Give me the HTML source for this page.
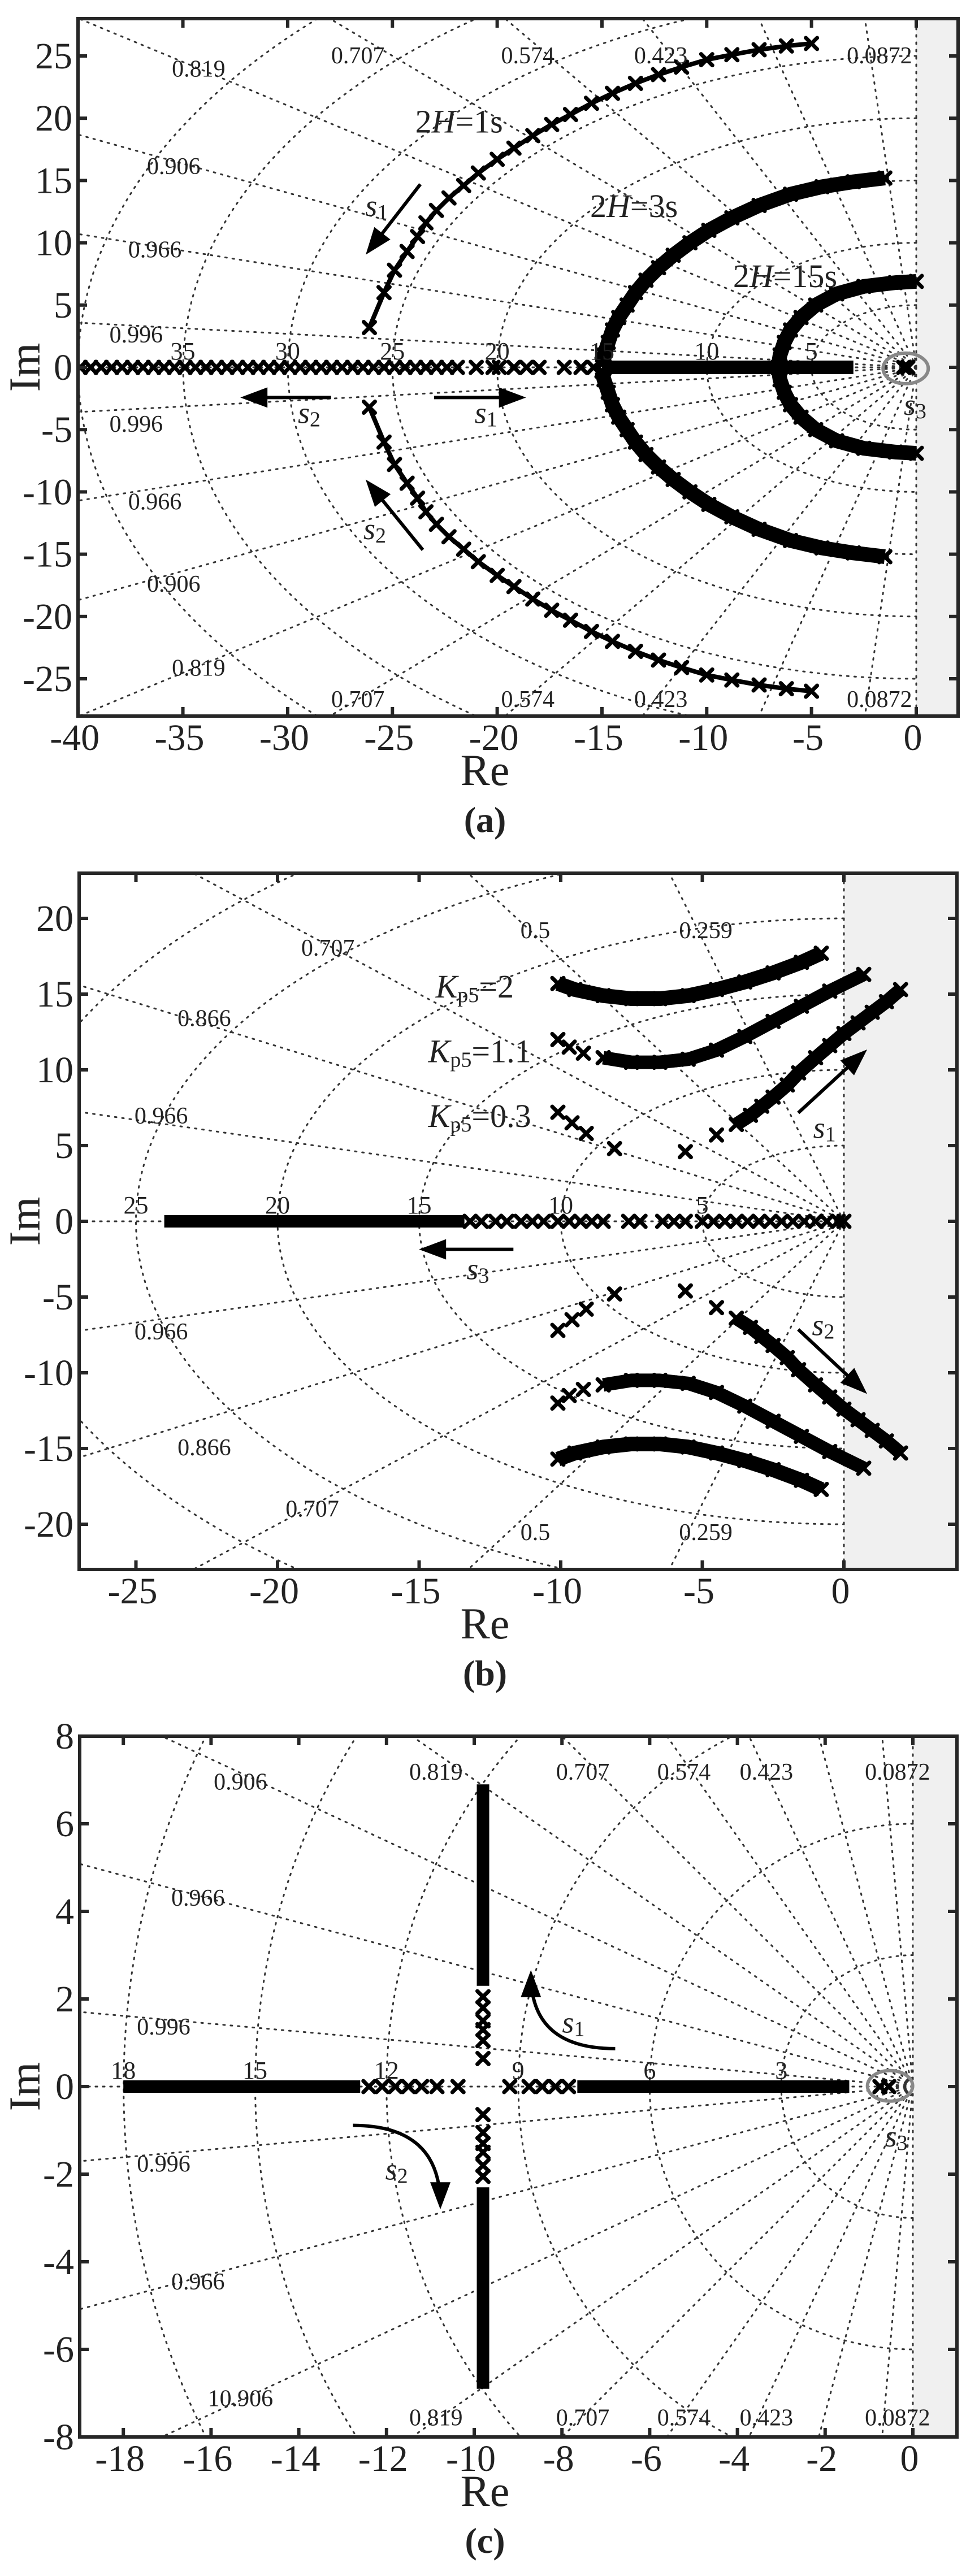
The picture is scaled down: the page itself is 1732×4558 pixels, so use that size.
<!DOCTYPE html>
<html><head><meta charset="utf-8">
<style>
html,body{margin:0;padding:0;background:#fff;width:1732px;height:4558px;overflow:hidden;}
svg{display:block;}
text{font-family:"Liberation Serif",serif;fill:#222;}
</style></head>
<body>
<svg id="fig" xmlns="http://www.w3.org/2000/svg" width="1732" height="4558" viewBox="0 0 1732 4558"></svg>
<script>
// ---------- Panel (a) data ----------
const aH1Re = [-26.1,-25.4,-24.9,-24.3,-23.8,-23.4,-22.9,-22.3,-21.6,-20.9,-20.0,-19.2,-18.3,-17.4,-16.5,-15.5,-14.5,-13.4,-12.3,-11.2,-10.0,-8.8,-7.5,-6.2,-5.0];
const aH1Im = [3.2,6.0,7.8,9.3,10.5,11.6,12.6,13.6,14.6,15.6,16.7,17.6,18.6,19.5,20.3,21.2,22.0,22.8,23.5,24.1,24.7,25.1,25.5,25.8,26.0];
const aH3Re = [-15.0,-14.9,-14.7,-14.5,-14.2,-13.8,-13.4,-12.9,-12.3,-11.6,-10.8,-9.9,-8.8,-7.5,-6.0,-4.5,-3.0,-1.5];
const aH3Im = [0.3,1.0,2.0,3.0,4.0,5.0,6.0,7.0,8.0,9.0,10.0,11.0,12.0,13.0,13.9,14.5,14.9,15.2];
const aH15Re = [-6.6,-6.5,-6.3,-6.0,-5.5,-4.8,-3.8,-2.5,-1.0,0.0];
const aH15Im = [0.0,1.0,2.0,3.0,4.0,5.0,5.9,6.5,6.8,6.9];
const aRealRe = [-39.9,-39.4,-38.9,-38.4,-37.9,-37.4,-36.9,-36.4,-35.9,-35.4,-34.9,-34.4,-33.9,-33.4,-32.9,-32.4,-31.9,-31.4,-30.9,-30.4,-29.9,-29.4,-28.9,-28.4,-27.9,-27.4,-26.9,-26.4,-25.9,-25.4,-24.9,-24.4,-23.9,-23.4,-22.9,-22.4,-21.9,-21.0,-20.2,-19.9,-19.2,-18.6,-18.0,-16.8,-16.0,-15.4];
const aBandRe = [-15.0,-3.0];
const aS3Re = [-0.6,-0.4];
// ---------- Panel (b) data ----------
const bK2Re = [-10.1,-9.5,-8.5,-7.5,-6.5,-5.5,-4.5,-3.5,-2.5,-1.5,-0.8];
const bK2Im = [15.7,15.3,14.9,14.7,14.7,14.9,15.3,15.8,16.4,17.1,17.7];
const bK11Re = [-10.1,-9.7,-9.2,-8.5,-7.5,-6.5,-5.5,-4.5,-3.5,-2.5,-1.5,-0.5,0.7];
const bK11Im = [12.0,11.5,11.1,10.8,10.5,10.5,10.7,11.3,12.2,13.2,14.2,15.2,16.3];
const bK03Re = [-10.1,-9.6,-9.1,-8.1,-5.6,-4.5,-3.8,-3.3,-2.9,-2.5,-2.0,-1.6,-1.0,-0.5,0.0,0.5,1.0,1.5,2.0];
const bK03Im = [7.2,6.5,5.8,4.8,4.6,5.7,6.4,7.0,7.6,8.2,9.0,9.8,10.8,11.6,12.4,13.1,13.8,14.5,15.3];
const bRealRe = [-13.2,-12.8,-12.3,-11.9,-11.4,-11.0,-10.6,-10.1,-9.7,-9.3,-8.9,-8.5,-7.6,-7.2,-6.4,-6.0,-5.6,-5.0,-4.6,-4.2,-3.8,-3.4,-3.0,-2.6,-2.2,-1.8,-1.4,-1.0,-0.6,-0.2,0.0];
const bBandRe = [-24.0,-13.4];
// ---------- Panel (c) data ----------
const cVertIm = [0.64,1.05,1.3,1.5,1.8,2.05];
const cVertBand = [2.3,6.9];
const cVertRe = -9.8;
const cRealRe = [-12.4,-12.1,-11.8,-11.5,-11.2,-10.85,-10.37,-9.19,-8.75,-8.45,-8.15,-7.85];
const cBandRe = [[-18.0,-12.6],[-7.65,-1.45]];
const cS3Re = [-0.75,-0.55];

// tick arrays
const aXTicks=[-40,-35,-30,-25,-20,-15,-10,-5,0], aYTicks=[-25,-20,-15,-10,-5,0,5,10,15,20,25];
const bXTicks=[-25,-20,-15,-10,-5,0], bYTicks=[-20,-15,-10,-5,0,5,10,15,20];
const cXTicks=[-18,-16,-14,-12,-10,-8,-6,-4,-2,0], cYTicks=[-8,-6,-4,-2,0,2,4,6,8];
const aWn=[5,10,15,20,25,30,35,40], bWn=[5,10,15,20,25,30], cWn=[3,6,9,12,15,18,21,24];
const aZeta=[0.0872,0.259,0.423,0.574,0.707,0.819,0.906,0.966,0.996];
const bZeta=[0.259,0.5,0.707,0.866,0.966];
const cZeta=[0.0872,0.259,0.423,0.574,0.707,0.819,0.906,0.966,0.996];

const NS="http://www.w3.org/2000/svg";
const svg=document.getElementById('fig');
function el(tag,attrs,parent){const e=document.createElementNS(NS,tag);for(const k in attrs)e.setAttribute(k,attrs[k]);(parent||svg).appendChild(e);return e;}

function makePanel(p){
  const g=el('g',{});
  
  
  p.sx=v=>p.x0+v*p.ux; p.sy=v=>p.y0-v*p.uy;
  p.A=(dx,dy)=>[dx*1.105,p.off+dy*0.97];
  const sh=el('rect',{x:p.sx(0),y:p.T,width:p.R-p.sx(0),height:p.B-p.T,fill:'#f0f0f0'},g);
  
  
  const cp=el('clipPath',{id:'clip'+p.id},g);
  el('rect',{x:p.L,y:p.T,width:p.R-p.L,height:p.B-p.T},cp);
  const grid=el('g',{'clip-path':'url(#clip'+p.id+')',stroke:'#333','stroke-width':3,'stroke-dasharray':'3 10','stroke-linecap':'round',fill:'none'},g);
  
  
  p.wn.forEach(w=>{const c=el('path',{d:`M ${p.sx(0)} ${p.sy(w)} A ${w*p.ux} ${w*p.uy} 0 0 0 ${p.sx(0)} ${p.sy(-w)}`},grid);
    });
  p.zeta.concat([1,0]).forEach(z=>{const s=Math.sqrt(1-z*z);
    [1,-1].forEach(sg=>{const l=el('line',{x1:p.sx(0),y1:p.sy(0),x2:p.sx(-z*100),y2:p.sy(sg*s*100)},grid);
    });});
  const loci=el('g',{'clip-path':'url(#clip'+p.id+')'},g);
  
  
  p.loci=loci;
  const fr=el('rect',{x:p.L,y:p.T,width:p.R-p.L,height:p.B-p.T,fill:'none',stroke:'#262626','stroke-width':6},g);
  
  const tk=el('g',{stroke:'#262626','stroke-width':6},g);
  p.xt.forEach(v=>{const x=p.sx(v);el('line',{x1:x,y1:p.B,x2:x,y2:p.B-16},tk);el('line',{x1:x,y1:p.T,x2:x,y2:p.T+16},tk);
    const t=el('text',{x:x-6,y:p.B+60,'font-size':66,'text-anchor':'middle'},g);t.textContent=String(v);
    });
  p.yt.forEach(v=>{const y=p.sy(v);el('line',{x1:p.L,y1:y,x2:p.L+16,y2:y},tk);el('line',{x1:p.R,y1:y,x2:p.R-16,y2:y},tk);
    const t=el('text',{x:p.L-10,y:y+22,'font-size':66,'text-anchor':'end'},g);t.textContent=String(v);
    });
  const re=el('text',{x:858,y:p.B+122,'font-size':78,'text-anchor':'middle'},g);re.textContent='Re';
  
  const im=el('text',{x:0,y:0,'font-size':78,'text-anchor':'middle',transform:`translate(70 ${p.y0}) rotate(-90)`},g);im.textContent='Im';
  
  const cap=el('text',{x:858,y:p.B+205,'font-size':64,'font-weight':'bold','text-anchor':'middle'},g);cap.textContent='('+p.id+')';
  
  p.wnLab.forEach(w=>{const t=el('text',{x:p.sx(-w),y:p.sy(0)-14,'font-size':44,'text-anchor':'middle'},g);t.textContent=String(w);
    });
  p.g=g;
  return p;
}
function cross(p,x,y,parent){const X=p.sx(x),Y=p.sy(y),h=10;
  const e=el('path',{d:`M${X-h} ${Y-h}L${X+h} ${Y+h}M${X-h} ${Y+h}L${X+h} ${Y-h}`,stroke:'#000','stroke-width':7,'stroke-linecap':'round',fill:'none'},parent);
  }
function series(p,re,im,name,band,mirror){
  const s=el('g',{},p.loci);
  
  
  const sgs=mirror?[1,-1]:[1];
  sgs.forEach(sg=>{
    if(band){const pts=re.map((r,i)=>p.sx(r)+','+p.sy(sg*im[i])).join(' ');
      el('polyline',{points:pts,fill:'none',stroke:'#000','stroke-width':band,'stroke-linejoin':'round'},s);}
    re.forEach((r,i)=>cross(p,r,sg*im[i],s));
  });
}
function band(p,x1,y1,x2,y2,w,name){const l=el('line',{x1:p.sx(x1),y1:p.sy(y1),x2:p.sx(x2),y2:p.sy(y2),stroke:'#000','stroke-width':w},p.loci);
  }
function label(p,txt,dx,dy,name,fs){const [x,y]=p.A(dx,dy);const t=el('text',{x:x,y:y+14,'font-size':fs||42,'text-anchor':'middle'},p.g);t.textContent=txt;
  }
function sLab(p,n,dx,dy){const [x,y]=p.A(dx,dy);const t=el('text',{x:x,y:y+18,'font-size':54,'text-anchor':'middle'},p.g);
  const a=el('tspan',{'font-style':'italic'},t);a.textContent='s';const b=el('tspan',{'font-size':38,dy:6},t);b.textContent=n;
  }
function arrow(p,pts,name,curve){const P=pts.map(q=>p.A(q[0],q[1]));
  const g=el('g',{},p.g);
  let d='M'+P[0][0]+' '+P[0][1];
  if(curve){d+=` Q ${P[1][0]} ${P[1][1]} ${P[2][0]} ${P[2][1]}`;}else{for(let i=1;i<P.length;i++)d+=' L'+P[i][0]+' '+P[i][1];}
  const E=P[P.length-1],S=P[P.length-2];const ang=Math.atan2(E[1]-S[1],E[0]-S[0]);
  const L=40,W=18;const bx=E[0]-L*Math.cos(ang),by=E[1]-L*Math.sin(ang);
  el('path',{d:d,stroke:'#000','stroke-width':6,fill:'none'},g);
  el('path',{d:`M${E[0]+8*Math.cos(ang)} ${E[1]+8*Math.sin(ang)} L${bx-W*Math.sin(ang)} ${by+W*Math.cos(ang)} L${bx+W*Math.sin(ang)} ${by-W*Math.cos(ang)} Z`,fill:'#000'},g);}
function ellipse(p,dx,dy,name){const [x,y]=p.A(dx,dy);const e=el('ellipse',{cx:x,cy:y,rx:40,ry:27,fill:'none',stroke:'#888','stroke-width':6},p.g);
  }
function kLab(p,val,dx,dy){const [x,y]=p.A(dx,dy);const t=el('text',{x:x,y:y+20,'font-size':58,'text-anchor':'middle'},p.g);
  const a=el('tspan',{'font-style':'italic'},t);a.textContent='K';const b=el('tspan',{'font-size':38,dy:8},t);b.textContent='p5';
  const c=el('tspan',{dy:-8},t);c.textContent='='+val;}
function hLab(p,val,dx,dy){const [x,y]=p.A(dx,dy);const t=el('text',{x:x,y:y+20,'font-size':58,'text-anchor':'middle'},p.g);
  const a=el('tspan',{},t);a.textContent='2';const b=el('tspan',{'font-style':'italic'},t);b.textContent='H';const c=el('tspan',{},t);c.textContent='='+val;
  }

// ===== Panel a =====
const pa=makePanel({id:'a',L:138,R:1695,T:33,B:1267,x0:1621,ux:37.07,y0:650,uy:22.04,off:3,xt:aXTicks,yt:aYTicks,wn:aWn,zeta:aZeta,wnLab:[5,10,15,20,25,30,35]});
series(pa,aRealRe,aRealRe.map(()=>0),'real-axis-branch-H1',0,false);
band(pa,aBandRe[0],0,aBandRe[1],0,24,'real-axis-band');
series(pa,aH1Re,aH1Im,'branch-2H-1s',8,true);
series(pa,aH3Re,aH3Im,'branch-2H-3s',26,true);
series(pa,aH15Re,aH15Im,'branch-2H-15s',26,true);
series(pa,aS3Re,aS3Re.map(()=>0),'s3-poles',0,false);
ellipse(pa,1450,669,'s3-highlight');
[['0.819',318,122],['0.707',573,98],['0.574',845,98],['0.423',1058,98],['0.0872',1408,98],['0.906',278,300],['0.966',248,452],['0.996',218,607],
 ['0.996',218,770],['0.966',248,912],['0.906',278,1062],['0.819',318,1215],['0.707',573,1272],['0.574',845,1272],['0.423',1058,1272],['0.0872',1408,1272]]
 .forEach(z=>label(pa,z[0],z[1],z[2],'zeta-label'));
hLab(pa,'1s',735,218);hLab(pa,'3s',1015,372);hLab(pa,'15s',1257,500);
arrow(pa,[[673,333],[590,455]],'s1-arrow-upper');sLab(pa,'1',603,372);
arrow(pa,[[530,722],[392,722]],'s2-arrow-left');sLab(pa,'2',495,750);
arrow(pa,[[695,722],[835,722]],'s1-arrow-right');sLab(pa,'1',778,750);
arrow(pa,[[677,1000],[590,878]],'s2-arrow-lower');sLab(pa,'2',600,962);
sLab(pa,'3',1465,735);

// ===== Panel b =====
const pb=makePanel({id:'b',L:140,R:1693,T:1545,B:2777,x0:1493,ux:50.1,y0:2161,uy:26.8,off:1520,xt:bXTicks,yt:bYTicks,wn:bWn,zeta:bZeta,wnLab:[5,10,15,20,25]});
band(pb,bBandRe[0],0,bBandRe[1],0,22,'real-axis-band');
series(pb,bRealRe,bRealRe.map(()=>0),'real-axis-branch',0,false);
series(pb,bK2Re,bK2Im,'branch-kp5-2',26,true);
series(pb,bK11Re.slice(0,4),bK11Im.slice(0,4),'branch-kp5-1.1-left',0,true);
series(pb,bK11Re.slice(3),bK11Im.slice(3),'branch-kp5-1.1',24,true);
series(pb,bK03Re.slice(0,7),bK03Im.slice(0,7),'branch-kp5-0.3-sparse',0,true);
series(pb,bK03Re.slice(6),bK03Im.slice(6),'branch-kp5-0.3',24,true);
[['0.5',857,130],['0.259',1130,130],['0.707',525,162],['0.866',327,290],['0.966',258,468],
 ['0.966',258,862],['0.866',327,1073],['0.707',500,1185],['0.5',857,1228],['0.259',1130,1228]].forEach(z=>label(pb,z[0],z[1],z[2],'zeta-label'));
kLab(pb,'2',760,232);kLab(pb,'1.1',768,350);kLab(pb,'0.3',768,468);
arrow(pb,[[1278,463],[1383,353]],'s1-arrow');sLab(pb,'1',1320,490);
arrow(pb,[[1278,858],[1383,970]],'s2-arrow');sLab(pb,'2',1318,850);
arrow(pb,[[822,712],[678,712]],'s3-arrow');sLab(pb,'3',765,748);

// ===== Panel c =====
const pc=makePanel({id:'c',L:141,R:1693,T:3072,B:4312,x0:1615,ux:77.6,y0:3692,uy:77.5,off:3038,xt:cXTicks,yt:cYTicks,wn:cWn,zeta:cZeta,wnLab:[3,6,9,12,15,18]});
cBandRe.forEach(bd=>band(pc,bd[0],0,bd[1],0,22,'real-axis-band'));
series(pc,cRealRe,cRealRe.map(()=>0),'real-axis-branch',0,false);
band(pc,cVertRe,cVertBand[0],cVertRe,cVertBand[1],22,'vertical-band-upper');
band(pc,cVertRe,-cVertBand[0],cVertRe,-cVertBand[1],22,'vertical-band-lower');
series(pc,cVertIm.map(()=>cVertRe),cVertIm,'vertical-branch',0,true);
series(pc,cS3Re,cS3Re.map(()=>0),'s3-poles',0,false);
ellipse(pc,1425,673,'s3-highlight');
[['0.906',385,118],['0.819',698,100],['0.707',933,100],['0.574',1095,100],['0.423',1227,100],['0.0872',1437,100],['0.966',317,330],['0.996',262,565],
 ['0.996',262,815],['0.966',317,1030],['10.906',385,1243],['0.819',698,1278],['0.707',933,1278],['0.574',1095,1278],['0.423',1227,1278],['0.0872',1437,1278]]
 .forEach(z=>label(pc,z[0],z[1],z[2],'zeta-label'));
arrow(pc,[[985,605],[850,605],[850,470]],'s1-arrow',true);sLab(pc,'1',918,557);
arrow(pc,[[565,745],[705,745],[705,890]],'s2-arrow',true);sLab(pc,'2',635,825);
sLab(pc,'3',1435,765);
</script>
</body></html>
